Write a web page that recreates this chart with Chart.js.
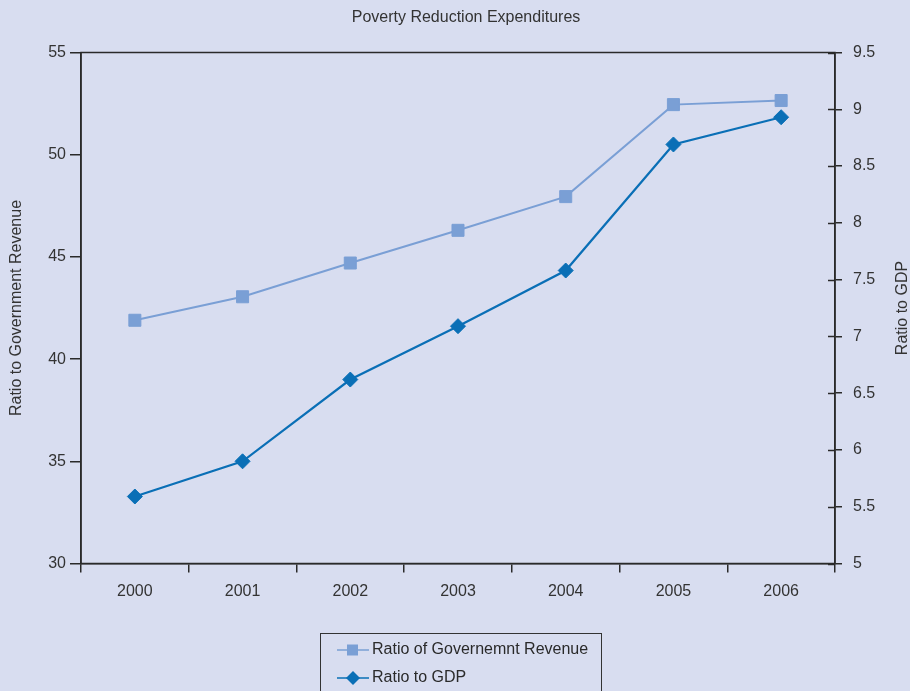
<!DOCTYPE html>
<html>
<head>
<meta charset="utf-8">
<title>Poverty Reduction Expenditures</title>
<script src="https://cdn.jsdelivr.net/npm/chart.js@4"></script>
<style>
  html, body { margin: 0; padding: 0; background: #d8ddf0; }
  #wrap { width: 910px; height: 691px; }
</style>
</head>
<body>
<div id="wrap"><canvas id="chart" width="910" height="691"></canvas></div>
<script>
const years = ['2000', '2001', '2002', '2003', '2004', '2005', '2006'];
const revenueRatio = [41.9, 43.05, 44.7, 46.3, 47.95, 52.45, 52.65];
const gdpRatio = [5.59, 5.9, 6.62, 7.09, 7.58, 8.69, 8.93];

const revenueRange = { min: 30, max: 55, step: 5 };
const gdpRange = { min: 5, max: 9.5, step: 0.5 };

const chartTitle = 'Poverty Reduction Expenditures';

const FONT = '"Liberation Sans", Arial, sans-serif';
const INK = '#2a2a2a';
const TEXT = '#333';
const REV_COLOR = '#7a9fd5';
const GDP_COLOR = '#0a6fb6';

// title, frame, inner ticks on the right axis, right title and the boxed legend
const extras = {
  id: 'extras',
  afterDraw(chart) {
    const { ctx, chartArea: a } = chart;
    ctx.save();
    ctx.fillStyle = TEXT;
    ctx.font = '16px ' + FONT;
    ctx.textAlign = 'center';
    ctx.textBaseline = 'middle';
    ctx.fillText(chartTitle, 466, 17.5);

    ctx.strokeStyle = INK;
    ctx.lineWidth = 1.5;
    ctx.strokeRect(a.left, a.top, a.right - a.left, a.bottom - a.top);

    const y1 = chart.scales.y1;
    ctx.beginPath();
    y1.ticks.forEach((t, i) => {
      const py = Math.round(y1.getPixelForTick(i)) + 0.5;
      ctx.moveTo(a.right - 7, py);
      ctx.lineTo(a.right, py);
    });
    ctx.stroke();

    ctx.translate(903, (a.top + a.bottom) / 2);
    ctx.rotate(-Math.PI / 2);
    ctx.fillText('Ratio to GDP', 0, 0);
    ctx.restore();

    // legend
    ctx.save();
    ctx.strokeStyle = '#333';
    ctx.lineWidth = 1;
    ctx.strokeRect(320.5, 633.5, 281, 70);
    ctx.font = '16px ' + FONT;
    ctx.textBaseline = 'middle';
    chart.data.datasets.forEach((ds, i) => {
      const y = 650 + i * 28;
      ctx.strokeStyle = ds.borderColor;
      ctx.lineWidth = 1.5;
      ctx.beginPath();
      ctx.moveTo(337, y);
      ctx.lineTo(369, y);
      ctx.stroke();
      ctx.fillStyle = ds.borderColor;
      if (ds.pointStyle === 'rect') {
        ctx.fillRect(347, y - 5.5, 11, 11);
      } else {
        ctx.beginPath();
        ctx.moveTo(353, y - 7);
        ctx.lineTo(360, y);
        ctx.lineTo(353, y + 7);
        ctx.lineTo(346, y);
        ctx.closePath();
        ctx.fill();
      }
      ctx.fillStyle = INK;
      ctx.fillText(ds.label, 372, y);
    });
    ctx.restore();
  }
};

new Chart(document.getElementById('chart').getContext('2d'), {
  type: 'line',
  data: {
    labels: years,
    datasets: [{
      label: 'Ratio of Governemnt Revenue',
      data: revenueRatio,
      yAxisID: 'y',
      borderColor: REV_COLOR,
      backgroundColor: REV_COLOR,
      borderWidth: 2,
      pointStyle: 'rect',
      pointRadius: 8.5,
      pointBorderWidth: 1,
      tension: 0,
      fill: false
    }, {
      label: 'Ratio to GDP',
      data: gdpRatio,
      yAxisID: 'y1',
      borderColor: GDP_COLOR,
      backgroundColor: GDP_COLOR,
      borderWidth: 2.2,
      pointStyle: 'rectRot',
      pointRadius: 7.5,
      pointBorderWidth: 1,
      tension: 0,
      fill: false
    }]
  },
  options: {
    responsive: false,
    animation: false,
    devicePixelRatio: 1,
    layout: { padding: { top: 52.5 } },
    plugins: {
      legend: { display: false },
      tooltip: { enabled: false },
      title: { display: false }
    },
    scales: {
      x: {
        offset: true,
        grid: { drawOnChartArea: false, offset: true, color: INK, lineWidth: 1.5, tickLength: 9 },
        border: { color: INK, width: 1.5 },
        ticks: { color: TEXT, font: { family: FONT, size: 16 }, padding: 9, maxRotation: 0 },
        afterFit(scale) { scale.height = 127.5; }
      },
      y: {
        position: 'left',
        min: revenueRange.min,
        max: revenueRange.max,
        grid: { drawOnChartArea: false, color: INK, lineWidth: 1.5, tickLength: 11 },
        border: { color: INK, width: 1.5 },
        ticks: { stepSize: revenueRange.step, color: TEXT, font: { family: FONT, size: 16 }, padding: 4 },
        title: {
          display: true,
          text: 'Ratio to Government Revenue',
          color: TEXT,
          font: { family: FONT, size: 16 },
          padding: { top: 7.4, bottom: 0 }
        },
        afterFit(scale) { scale.width = 81; }
      },
      y1: {
        position: 'right',
        min: gdpRange.min,
        max: gdpRange.max,
        grid: { drawOnChartArea: false, color: INK, lineWidth: 1.5, tickLength: 7 },
        border: { color: INK, width: 1.5 },
        ticks: {
          stepSize: gdpRange.step,
          color: TEXT,
          font: { family: FONT, size: 16 },
          padding: 11,
          callback: v => String(v)
        },
        afterFit(scale) { scale.width = 75; }
      }
    }
  },
  plugins: [extras]
});
</script>
</body>
</html>
